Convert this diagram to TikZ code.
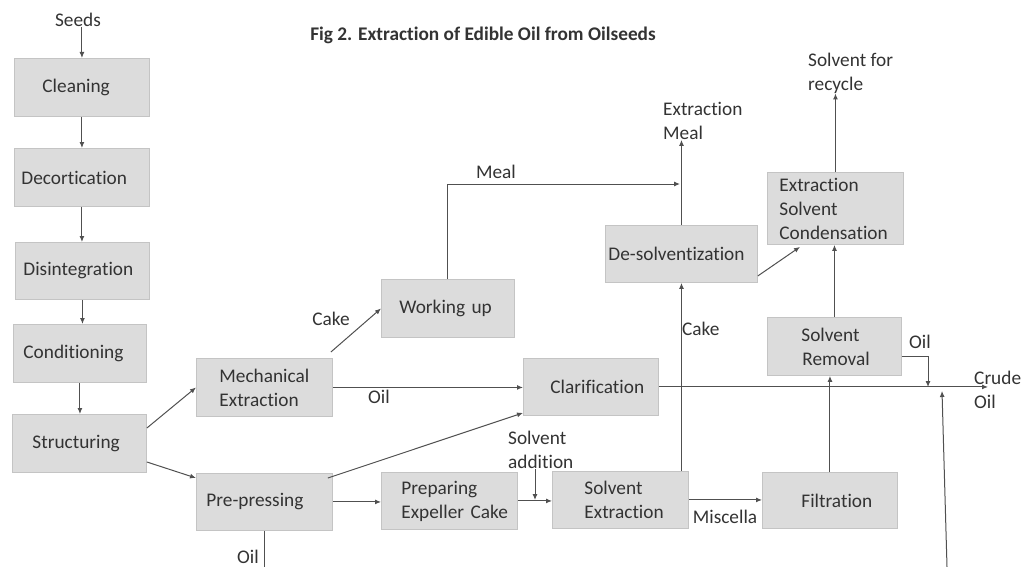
\documentclass[tikz,border=0pt]{standalone}
\usepackage{fontspec}
\setmainfont[Ligatures=NoCommon]{Carlito}
\usetikzlibrary{arrows.meta}
\definecolor{boxfill}{HTML}{DCDCDC}
\definecolor{boxline}{HTML}{C4C4C4}
\definecolor{txt}{HTML}{333333}
\definecolor{linecol}{HTML}{505050}
\tikzset{
  every node/.style={font=\fontsize{19.3}{24}\selectfont, text=txt},
  box/.style={draw=boxline, fill=boxfill, line width=0.9pt, inner xsep=0pt, inner ysep=0pt,
    anchor=north west, align=left},
  lbl/.style={inner sep=0pt},
  conn/.style={draw=linecol, line width=1pt},
  arr/.style={conn, -{Latex[length=6pt,width=5pt]}},
}
\begin{document}
\begin{tikzpicture}[x=1pt,y=-1pt]
\useasboundingbox (0,0) rectangle (1022,567);
% title
\node[lbl, font=\bfseries\fontsize{19.3}{24}\selectfont] (title) at (483,35) {Fig 2. Extraction of Edible Oil from Oilseeds};
% boxes
\node[box, minimum width=135, text width=135, minimum height=58] (clean) at (14,58) {\hspace*{28pt}Cleaning};
\node[box, minimum width=135, text width=135, minimum height=58] (decort) at (14,148) {\hspace*{7pt}Decortication};
\node[box, minimum width=134, text width=134, minimum height=57] (disint) at (15,242) {\hspace*{8pt}Disintegration};
\node[box, minimum width=133, text width=133, minimum height=58] (cond) at (13,324) {\hspace*{10pt}Conditioning};
\node[box, minimum width=134, text width=134, minimum height=58] (struct) at (12,414) {\hspace*{20pt}Structuring};
\node[box, minimum width=136, text width=136, minimum height=58] (mech) at (196,358) {\hspace*{23pt}Mechanical\\\hspace*{23pt}Extraction};
\node[box, minimum width=136, text width=136, minimum height=57] (pre) at (196,473) {\hspace*{10pt}Pre-pressing};
\node[box, minimum width=133, text width=133, minimum height=58] (workup) at (381,279) {\hspace*{18pt}Working up};
\node[box, minimum width=135, text width=135, minimum height=57] (clar) at (523,358) {\hspace*{27pt}Clarification};
\node[box, minimum width=152, text width=152, minimum height=57] (desolv) at (605,225) {\hspace*{3pt}De-solventization};
\node[box, minimum width=136, text width=136, minimum height=72] (esc) at (767,172) {\hspace*{12pt}Extraction\\\hspace*{12pt}Solvent\\\hspace*{12pt}Condensation};
\node[box, minimum width=134, text width=134, minimum height=58] (solvrem) at (767,317) {\hspace*{34pt}Solvent\\\hspace*{35pt}Removal};
\node[box, minimum width=135, text width=135, minimum height=56] (filt) at (762,472) {\hspace*{39pt}Filtration};
\node[box, minimum width=136, text width=136, minimum height=57] (pec) at (381,472) {\hspace*{20pt}Preparing\\\hspace*{20pt}Expeller Cake};
\node[box, minimum width=136, text width=136, minimum height=57] (solvext) at (552,471) {\hspace*{32pt}Solvent\\\hspace*{32pt}Extraction};
% free labels
\node[lbl] (seeds) at (78,20) {Seeds};
\node[lbl, anchor=west, align=left] (exmeal) at (663,121) {Extraction\\Meal};
\node[lbl, anchor=west, align=left] (recycle) at (808,73) {Solvent for\\recycle};
\node[lbl, anchor=west, align=left] (solvadd) at (508,450) {Solvent\\addition};
\node[lbl, anchor=west, align=left] (crude) at (974,390) {Crude\\Oil};
\node[lbl] (lcake1) at (331,319) {Cake};
\node[lbl] (loil1) at (379,397) {Oil};
\node[lbl] (lmeal) at (496,172) {Meal};
\node[lbl, anchor=west] (lcake2) at (682,329) {Cake};
\node[lbl] (lmisc) at (725,517) {Miscella};
\node[lbl] (loil2) at (920,342) {Oil};
\node[lbl] (loil3) at (248,557) {Oil};
% coordinates
\coordinate (join) at (535,500);
\coordinate (mealj) at (680,184);
\coordinate (oilj) at (928,387);
\coordinate (crudetip) at (988,389);
\coordinate (botin) at (947,567);
\coordinate (botj) at (942,391);
\coordinate (preoil) at (265,567);
% connectors
\draw[arr] (seeds.south -| clean.north) -- (clean.north);
\draw[arr] (clean.south) -- (clean.south |- decort.north);
\draw[arr] (decort.south) -- (decort.south |- disint.north);
\draw[arr] (disint.south) -- (disint.south |- cond.north);
\draw[arr] (cond.south) -- (cond.south |- struct.north);
\draw[arr] (struct.east |- 0,428) -- (mech.west);
\draw[arr] (struct.east |- 0,462) -- (pre.west |- 0,478);
\draw[arr] ([shift={(-2,-6)}]mech.north east) -- (workup.west);
\draw[arr] (mech.east) -- (mech.east -| clar.west);
\draw[arr] ([shift={(-5,5)}]pre.north east) -- ([shift={(0,-3)}]clar.south west);
\draw[arr] (pre.east) -- (pre.east -| pec.west);
\draw[arr] (pec.east) -- (pec.east -| solvext.west);
\draw[arr] (solvadd.south -| join) -- (join);
\draw[arr] (desolv.south |- solvext.north) -- (desolv.south);
\draw[arr] (desolv.north) -- (desolv.north |- exmeal.south);
\draw[arr] (workup.north) |- (mealj);
\draw[arr] ([shift={(0,-7)}]desolv.south east) -- ([shift={(33,2)}]esc.south west);
\draw[arr] (esc.north) -- (esc.north |- recycle.south);
\draw[arr] (solvrem.north) -- (solvrem.north |- esc.south);
\draw[arr] (filt.north) -- (filt.north |- solvrem.south);
\draw[arr] (solvext.east) -- (solvext.east -| filt.west);
\draw[arr] (solvrem.east |- 0,356) -| (oilj);
\draw[arr] (clar.east) -- (clar.east -| crudetip);
\draw[arr] (botin) -- (botj);
\draw[conn] (pre.south) -- (pre.south |- preoil);
\end{tikzpicture}
\end{document}
